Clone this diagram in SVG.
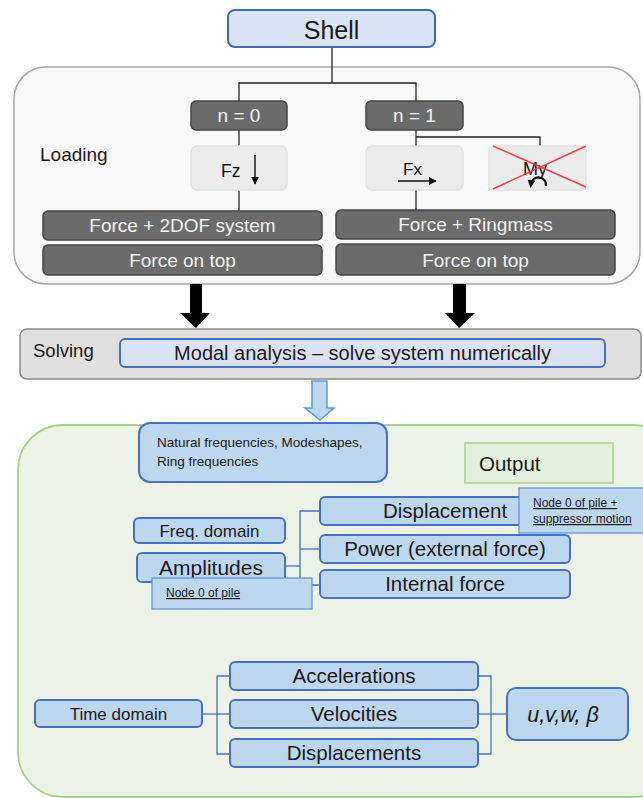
<svg xmlns="http://www.w3.org/2000/svg" width="643" height="798" viewBox="0 0 643 798">
<defs>
<style>
text{font-family:"Liberation Sans","Noto Sans",Arial,sans-serif;}
.dark{fill:#6b6b6b;stroke:#454545;stroke-width:1.5;}
.dt{fill:#f2f2f2;font-size:19px;text-anchor:middle;}
.lite{fill:#ececec;stroke:#e2e2e2;stroke-width:1.5;}
.blue{fill:#bdd7ee;stroke:#4472c4;stroke-width:2;}
.bt{fill:#1a1a1a;text-anchor:middle;}
.conn{fill:none;stroke:#222;stroke-width:1.3;}
.bconn{fill:none;stroke:#4472c4;stroke-width:1.3;}
.note{fill:#bdd7ee;stroke:#5b8fd0;stroke-width:1.2;}
.nt{fill:#1a1a1a;font-size:12px;text-decoration:underline;}
</style>
<marker id="ah" viewBox="0 0 10 10" refX="9" refY="5" markerWidth="8" markerHeight="8" markerUnits="userSpaceOnUse" orient="auto"><path d="M0,0L10,5L0,10z" fill="#111"/></marker>
<marker id="ah2" viewBox="0 0 10 10" refX="5" refY="5" markerWidth="8" markerHeight="8" markerUnits="userSpaceOnUse" orient="auto"><path d="M0,0L10,5L0,10z" fill="#111"/></marker>
</defs>
<rect width="643" height="798" fill="#ffffff"/>

<g id="loading-panel">
<rect x="14" y="67" width="626" height="217" rx="32" fill="#f8f8f8" stroke="#a6a6a6" stroke-width="1.5"/>
<text x="40" y="161" font-size="19" fill="#1a1a1a">Loading</text>
</g>

<g id="output-panel">
<rect x="18" y="425" width="660" height="372" rx="45" fill="#ecf3e6" stroke="#a9d18e" stroke-width="1.8"/>
</g>

<g id="connectors">
<polyline class="conn" points="332,47 332,83"/>
<polyline class="conn" points="239,101 239,83 416,83 416,101"/>
<polyline class="conn" points="239,130 239,146"/>
<polyline class="conn" points="239,190 239,211"/>
<polyline class="conn" points="416,130 416,146"/>
<polyline class="conn" points="416,137 540,137 540,146"/>
<polyline class="conn" points="416,190 416,210"/>
<polygon points="190,284 202,284 202,313 210,313 196,328 180,313 190,313" fill="#000"/>
<polygon points="453,284 466,284 466,313 475,313 459,328 445,313 453,313" fill="#000"/>
<polygon points="312,381 327,381 327,408 334,408 320,420 305,408 312,408" fill="#bdd7ee" stroke="#5b9bd5" stroke-width="1.5"/>
<polyline class="bconn" points="320,511 300,511 300,585 320,585"/>
<polyline class="bconn" points="300,549 320,549"/>
<polyline class="bconn" points="285,566 300,566"/>
<polyline class="bconn" points="230,676 217,676 217,754 230,754"/>
<polyline class="bconn" points="202,714 230,714"/>
<polyline class="bconn" points="478,676 491,676 491,754 478,754"/>
<polyline class="bconn" points="478,714 507,714"/>
</g>

<g id="shell">
<rect x="228" y="10" width="207" height="37" rx="7" fill="#dae3f3" stroke="#3f6bb0" stroke-width="2"/>
<text x="331.5" y="39" font-size="25" class="bt">Shell</text>
</g>

<g id="n0">
<rect class="dark" x="191" y="101" width="96" height="29" rx="5"/>
<text class="dt" x="239" y="122">n = 0</text>
</g>
<g id="n1">
<rect class="dark" x="366" y="101" width="97" height="29" rx="5"/>
<text class="dt" x="414.5" y="122">n = 1</text>
</g>

<g id="fz">
<rect class="lite" x="191" y="146" width="96" height="44" rx="6"/>
<text x="221" y="177" font-size="17.5" fill="#111">Fz</text>
<line x1="255" y1="155" x2="255" y2="184" stroke="#111" stroke-width="1.4" marker-end="url(#ah)"/>
</g>

<g id="fx">
<rect class="lite" x="366" y="146" width="97" height="44" rx="6"/>
<text x="403" y="175" font-size="17" fill="#111">Fx</text>
<line x1="398" y1="181" x2="436" y2="181" stroke="#111" stroke-width="1.4" marker-end="url(#ah)"/>
</g>

<g id="my">
<rect class="lite" x="489" y="146" width="97" height="44" rx="4"/>
<text x="523" y="175" font-size="18" fill="#111">My</text>
<path d="M546,186 A7,7 0 1 0 531,184" fill="none" stroke="#111" stroke-width="2.2" marker-end="url(#ah2)"/>
<line x1="493" y1="146" x2="586" y2="187" stroke="#ff3b3b" stroke-width="1.4"/>
<line x1="493" y1="189" x2="586" y2="146" stroke="#ff3b3b" stroke-width="1.4"/>
</g>

<g id="force-2dof">
<rect class="dark" x="43" y="211" width="279" height="29" rx="5"/>
<text class="dt" x="182.5" y="232">Force + 2DOF system</text>
</g>
<g id="force-top-0">
<rect class="dark" x="43" y="245" width="279" height="30" rx="5"/>
<text class="dt" x="182.5" y="267">Force on top</text>
</g>
<g id="force-ringmass">
<rect class="dark" x="336" y="210" width="279" height="29" rx="5"/>
<text class="dt" x="475.5" y="231">Force + Ringmass</text>
</g>
<g id="force-top-1">
<rect class="dark" x="336" y="244" width="279" height="31" rx="5"/>
<text class="dt" x="475.5" y="267">Force on top</text>
</g>

<g id="solving">
<rect x="20" y="329" width="621" height="50" rx="7" fill="#e0e0e0" stroke="#8a8a8a" stroke-width="1.5"/>
<text x="33" y="357" font-size="18.5" fill="#1a1a1a">Solving</text>
</g>
<g id="modal">
<rect x="120" y="339" width="485" height="28" rx="5" fill="#dae3f3" stroke="#4472c4" stroke-width="2"/>
<text x="362.5" y="360" font-size="20" class="bt">Modal analysis – solve system numerically</text>
</g>

<g id="natural">
<rect class="blue" x="139" y="423" width="248" height="59" rx="11"/>
<text x="157" y="447" font-size="13.5" fill="#1a1a1a">Natural frequencies, Modeshapes,</text>
<text x="157" y="466" font-size="13.5" fill="#1a1a1a">Ring frequencies</text>
</g>

<g id="output">
<rect x="465" y="443" width="148" height="40" fill="#e2efda" stroke="#a9d18e" stroke-width="1.5"/>
<text x="479" y="471" font-size="20.5" fill="#1a1a1a">Output</text>
</g>

<g id="freq-domain">
<rect class="blue" x="134" y="518" width="151" height="25" rx="5"/>
<text x="209.5" y="537" font-size="17" class="bt">Freq. domain</text>
</g>
<g id="amplitudes">
<rect class="blue" x="137" y="553" width="148" height="29" rx="5"/>
<text x="211" y="575" font-size="21" class="bt">Amplitudes</text>
</g>
<g id="node0-pile">
<rect class="note" x="152" y="578" width="160" height="31"/>
<text class="nt" x="166" y="597">Node 0 of pile</text>
</g>

<g id="displacement">
<rect class="blue" x="320" y="497" width="250" height="28" rx="5"/>
<text x="445" y="518" font-size="20.5" class="bt">Displacement</text>
</g>
<g id="node0-suppressor">
<rect class="note" x="519" y="488" width="130" height="45"/>
<text class="nt" x="533" y="507" font-size="12.5">Node 0 of pile +</text>
<text class="nt" x="533" y="523" font-size="12.5">suppressor motion</text>
</g>
<g id="power">
<rect class="blue" x="320" y="535" width="250" height="28" rx="5"/>
<text x="445" y="556" font-size="20.5" class="bt">Power (external force)</text>
</g>
<g id="internal-force">
<rect class="blue" x="320" y="570" width="250" height="28" rx="5"/>
<text x="445" y="591" font-size="20.5" class="bt">Internal force</text>
</g>

<g id="time-domain">
<rect class="blue" x="35" y="700" width="167" height="27" rx="5"/>
<text x="118.5" y="720" font-size="17" class="bt">Time domain</text>
</g>
<g id="accelerations">
<rect class="blue" x="230" y="662" width="248" height="28" rx="5"/>
<text x="354" y="683" font-size="20.5" class="bt">Accelerations</text>
</g>
<g id="velocities">
<rect class="blue" x="230" y="700" width="248" height="28" rx="5"/>
<text x="354" y="721" font-size="20.5" class="bt">Velocities</text>
</g>
<g id="displacements">
<rect class="blue" x="230" y="739" width="248" height="28" rx="5"/>
<text x="354" y="760" font-size="20.5" class="bt">Displacements</text>
</g>
<g id="uvw">
<rect class="blue" x="507" y="688" width="121" height="52" rx="9"/>
<text x="563" y="722" font-size="21.5" font-style="italic" class="bt">u,v,w, β</text>
</g>
</svg>
